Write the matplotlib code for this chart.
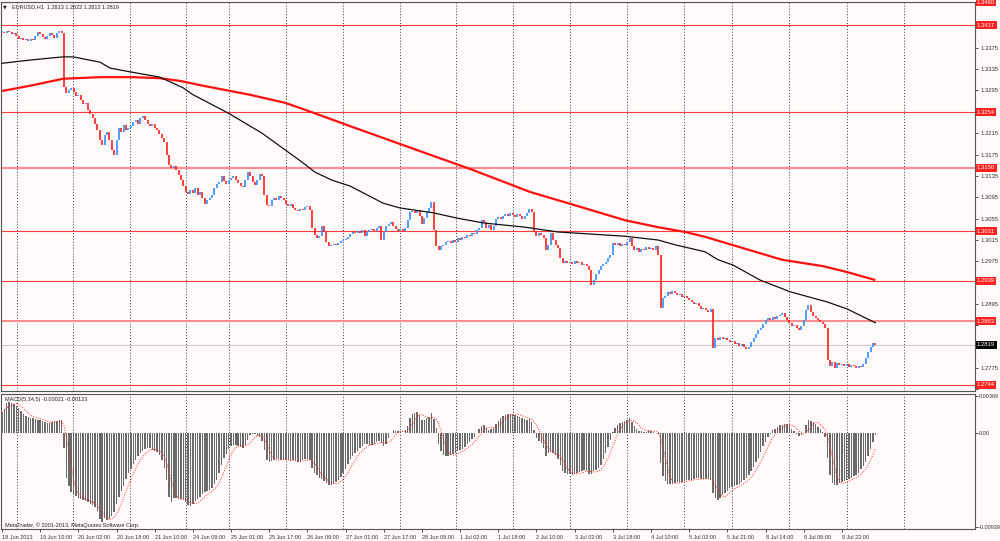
import matplotlib
matplotlib.use('Agg')
import matplotlib.pyplot as plt
import numpy as np
import pandas as pd

plt.rcParams['font.family'] = ['Liberation Sans', 'DejaVu Sans']

# ---------------- data ----------------
symbol = "EURUSD,H1"
last_ohlc = [1.2813, 1.2822, 1.2812, 1.2819]
macd_header_values = [-0.00021, -0.00123]

close = [
    1.3405, 1.3402, 1.3406, 1.3404, 1.3401, 1.3403, 1.3397, 1.3392, 1.3394, 1.3389,
    1.3391, 1.3388, 1.3392, 1.3390, 1.3397, 1.3405, 1.3401, 1.3396, 1.3392, 1.3397,
    1.3403, 1.3399, 1.3394, 1.3402, 1.3407, 1.3402,
    1.3302, 1.3290, 1.3296, 1.3300, 1.3292, 1.3284, 1.3286, 1.3277, 1.3270, 1.3272,
    1.3258, 1.3251, 1.3244, 1.3233, 1.3221, 1.3202, 1.3193, 1.3212, 1.3217, 1.3202,
    1.3184, 1.3174, 1.3202, 1.3225, 1.3217, 1.3230, 1.3221, 1.3225, 1.3229, 1.3236,
    1.3240, 1.3233, 1.3244, 1.3247, 1.3240, 1.3233, 1.3229, 1.3233, 1.3225, 1.3221,
    1.3214, 1.3206, 1.3199, 1.3174, 1.3155, 1.3150, 1.3154, 1.3146, 1.3137, 1.3127,
    1.3116, 1.3105, 1.3101, 1.3109, 1.3103, 1.3112, 1.3099, 1.3105, 1.3094, 1.3082,
    1.3090, 1.3094, 1.3099, 1.3112, 1.3120, 1.3124, 1.3135, 1.3126, 1.3120, 1.3127,
    1.3131, 1.3135, 1.3127, 1.3122, 1.3116, 1.3114, 1.3127, 1.3142, 1.3135, 1.3124,
    1.3118, 1.3127, 1.3139, 1.3135, 1.3099, 1.3080, 1.3079, 1.3090, 1.3094, 1.3090,
    1.3097, 1.3094, 1.3090, 1.3082, 1.3079, 1.3082, 1.3075, 1.3071, 1.3069, 1.3073,
    1.3071, 1.3077, 1.3079, 1.3071, 1.3037, 1.3024, 1.3019, 1.3022, 1.3041, 1.3030,
    1.3011, 1.3004, 1.3006, 1.3008, 1.3006, 1.3009, 1.3013, 1.3015, 1.3017, 1.3020,
    1.3026, 1.3030, 1.3028, 1.3032, 1.3028, 1.3034, 1.3022, 1.3030, 1.3034, 1.3036,
    1.3032, 1.3037, 1.3041, 1.3015, 1.3030, 1.3041, 1.3045, 1.3049, 1.3041, 1.3036,
    1.3032, 1.3036, 1.3032, 1.3037, 1.3052, 1.3067, 1.3069, 1.3065, 1.3071, 1.3060,
    1.3045, 1.3056, 1.3067, 1.3075, 1.3086, 1.3034, 1.3004, 1.2996, 1.3004, 1.3006,
    1.3011, 1.3013, 1.3009, 1.3015, 1.3011, 1.3019, 1.3015, 1.3020, 1.3019, 1.3024,
    1.3022, 1.3028, 1.3026, 1.3034, 1.3037, 1.3052, 1.3049, 1.3037, 1.3043, 1.3034,
    1.3041, 1.3054, 1.3058, 1.3054, 1.3060, 1.3064, 1.3060, 1.3065, 1.3062, 1.3058,
    1.3064, 1.3060, 1.3054, 1.3060, 1.3065, 1.3073, 1.3067, 1.3030, 1.3022, 1.3028,
    1.3024, 1.3019, 1.2996, 1.3006, 1.3028, 1.3015, 1.3006, 1.3000, 1.2981, 1.2972,
    1.2976, 1.2972, 1.2974, 1.2970, 1.2976, 1.2972, 1.2974, 1.2968, 1.2970, 1.2966,
    1.2959, 1.2931, 1.2940, 1.2951, 1.2959, 1.2966, 1.2970, 1.2974, 1.2981, 1.2987,
    1.3009, 1.3006, 1.3009, 1.3004, 1.3008, 1.3006, 1.3011, 1.3019, 1.3004, 1.2996,
    1.3000, 1.2993, 1.2998, 1.2996, 1.3002, 1.2998, 1.3000, 1.2996, 1.3004, 1.2987,
    1.2888, 1.2906, 1.2910, 1.2918, 1.2914, 1.2919, 1.2916, 1.2912, 1.2914, 1.2908,
    1.2910, 1.2906, 1.2903, 1.2899, 1.2895, 1.2897, 1.2892, 1.2886, 1.2888, 1.2884,
    1.2880, 1.2886, 1.2813, 1.2832, 1.2828, 1.2833, 1.2830, 1.2832, 1.2828, 1.2824,
    1.2826, 1.2820, 1.2822, 1.2817, 1.2820, 1.2815, 1.2811, 1.2815, 1.2824, 1.2832,
    1.2839, 1.2847, 1.2850, 1.2858, 1.2865, 1.2869, 1.2865, 1.2871, 1.2867, 1.2873,
    1.2874, 1.2878, 1.2871, 1.2865, 1.2860, 1.2854, 1.2856, 1.2850, 1.2847, 1.2854,
    1.2865, 1.2884, 1.2893, 1.2880, 1.2873, 1.2869, 1.2865, 1.2861, 1.2858, 1.2850,
    1.2790, 1.2779, 1.2787, 1.2775, 1.2785, 1.2781, 1.2783, 1.2779, 1.2783, 1.2777,
    1.2781, 1.2779, 1.2775, 1.2779, 1.2777, 1.2783, 1.2794, 1.2805, 1.2815, 1.2822, 1.2819,
]

# MACD main line (histogram), in units of 1e-5
macd_e5 = [
    200, 240, 300, 308, 300, 283, 263, 243, 220, 192,
    172, 160, 151, 144, 137, 131, 126, 114, 105, 100,
    100, 106, 114, 120, 126, 129, -157, -450, -530, -590,
    -625, -637, -650, -660, -672, -683, -696, -708, -720, -740,
    -780, -865, -890, -850, -872, -860, -835, -790, -712, -640,
    -580, -530, -460, -400, -358, -308, -270, -237, -204, -184,
    -167, -157, -157, -168, -183, -193, -218, -270, -350, -470,
    -640, -690, -657, -657, -657, -662, -673, -695, -720, -735,
    -710, -687, -663, -640, -615, -595, -587, -575, -553, -515,
    -470, -400, -320, -255, -210, -165, -135, -123, -123, -130,
    -142, -155, -120, -70, -23, -10, -15, -30, -45, -78,
    -170, -273, -288, -282, -270, -258, -263, -270, -273, -273,
    -277, -278, -273, -285, -290, -288, -275, -262, -262, -272,
    -350, -405, -425, -452, -465, -480, -507, -518, -520, -510,
    -495, -472, -445, -407, -358, -310, -265, -230, -200, -183,
    -157, -130, -115, -108, -120, -123, -110, -90, -78, -105,
    -130, -110, -55, -5, 25, 22, 15, 8, -5, 25,
    70, 145, 185, 200, 205, 180, 130, 125, 143, 157,
    200, 140, 50, -110, -180, -225, -232, -228, -222, -212,
    -198, -185, -172, -160, -140, -115, -92, -65, -38, -3,
    35, 70, 80, 45, 32, 33, 52, 85, 120, 150,
    167, 180, 185, 188, 192, 182, 172, 160, 148, 135,
    128, 140, 110, 30, -57, -85, -105, -150, -230, -200,
    -195, -207, -218, -260, -320, -385, -400, -409, -414, -420,
    -415, -405, -392, -380, -373, -378, -413, -410, -385, -375,
    -350, -318, -265, -205, -140, -70, 10, 45, 78, 101,
    108, 120, 130, 143, 110, 65, 40, 18, 15, 12,
    12, 25, 20, 8, -5, -10, -300, -430, -480, -510,
    -513, -508, -503, -497, -490, -490, -485, -473, -473, -470,
    -465, -457, -457, -462, -465, -458, -465, -470, -600, -650,
    -668, -652, -626, -602, -578, -556, -544, -533, -522, -508,
    -495, -475, -455, -418, -383, -343, -295, -248, -195, -135,
    -88, -45, -12, 28, 38, 55, 77, 82, 88, 90,
    78, 40, 15, -10, -30, -25, 0, 75, 130, 120,
    106, 83, 58, 35, 10, -40, -250, -420, -505, -518,
    -518, -507, -495, -483, -471, -459, -448, -435, -423, -398,
    -363, -332, -296, -230, -160, -88, -21,
]

# moving averages (bar index, price)
ma_black_idx = [0, 11.7, 25.6, 29.8, 41.1, 45.3, 53.6, 66.2, 75.9, 80.1, 94.7, 109.0,
                118.6, 125.7, 131.2, 138.3, 145.9, 159.7, 166.8, 180.6, 190.7, 201.6,
                219.2, 233.0, 247.3, 261.1, 274.9, 282.1, 294.6, 300.1, 306.4, 317.7,
                330.3, 345.8, 354.1, 366]
ma_black_val = [1.3346, 1.3352, 1.3358, 1.3358, 1.3348, 1.3337, 1.3330, 1.3320, 1.3300,
                1.3287, 1.3253, 1.3215, 1.3184, 1.3161, 1.3142, 1.3127, 1.3116, 1.3084,
                1.3075, 1.3066, 1.3056, 1.3047, 1.3039, 1.3030, 1.3026, 1.3022, 1.3015,
                1.3006, 1.2993, 1.2978, 1.2968, 1.2940, 1.2918, 1.2899, 1.2886, 1.2860]
ma_red_idx = [0, 13.0, 25.6, 41.1, 54.9, 66.2, 74.6, 83.0, 103.9, 118.6, 128.2, 147.9,
              197.4, 221.3, 237.2, 261.1, 274.9, 286.3, 294.6, 326.9, 344.1, 354.1, 366]
ma_red_val = [1.3294, 1.3305, 1.3317, 1.3320, 1.3320, 1.3318, 1.3313, 1.3305, 1.3287,
              1.3272, 1.3257, 1.3225, 1.3146, 1.3105, 1.3084, 1.3052, 1.3039, 1.3030,
              1.3021, 1.2978, 1.2966, 1.2955, 1.2940]

levels = [1.3460, 1.3417, 1.3254, 1.3150, 1.3031, 1.2939, 1.2863, 1.2744]
levels_soft = [1.3150, 1.2863]

xtick_labels = ["18 Jun 2013", "19 Jun 10:00", "20 Jun 02:00", "20 Jun 18:00", "21 Jun 10:00",
                "24 Jun 09:00", "25 Jun 01:00", "25 Jun 17:00", "26 Jun 09:00", "27 Jun 01:00",
                "27 Jun 17:00", "28 Jun 09:00", "1 Jul 02:00", "1 Jul 18:00", "2 Jul 10:00",
                "3 Jul 02:00", "3 Jul 18:00", "4 Jul 10:00", "5 Jul 02:00", "5 Jul 21:00",
                "8 Jul 14:00", "9 Jul 06:00", "9 Jul 22:00"]
day_separators = [6.3, 29.8, 53.6, 77.1, 95.1, 119.0, 142.9, 166.8, 190.3, 214.2,
                  238.1, 262.0, 285.8, 306.0, 329.8, 354.1, 378.0]

macd_ticks = [0.00369, 0.0, -0.00939]
macd_tick_labels = ["0.00369", "0.00", "-0.00939"]
copyright_text = "MetaTrader, \u00a9 2001-2013, MetaQuotes Software Corp."

# ---------------- layout ----------------
W, H = 1000, 541
BG = '#FFFAFA'
fig = plt.figure(figsize=(W / 100, H / 100), dpi=100)
fig.patch.set_facecolor(BG)


def rect(l, t, r, b):
    return [l / W, 1 - b / H, (r - l) / W, (b - t) / H]


ax = fig.add_axes(rect(1, 2, 975, 391))
axm = fig.add_axes(rect(1, 394, 975, 529), sharex=ax)

n = len(close)
idx = np.arange(n)
c = np.array(close)
o = np.concatenate([[c[0]], c[:-1]])

for a in (ax, axm):
    a.set_facecolor(BG)
    for s in a.spines.values():
        s.set_color('#555555')
        s.set_linewidth(0.8)
    for g in day_separators:
        a.axvline(g, color='#333333', lw=0.7, ls=(0, (1, 2)), zorder=0.5)

px_per_bar = 2.386
ax.set_xlim((1 - 2) / px_per_bar, (975 - 2) / px_per_bar)


def price_at(ypx):
    return 1.34645 - 0.0001873 * ypx


ax.set_ylim(price_at(391), price_at(2))

# levels
for lv in levels:
    if lv in levels_soft:
        ax.axhline(lv, color='#FF8C8C', lw=1.5, zorder=1)
    else:
        ax.axhline(lv, color='#FF3B3B', lw=0.8, zorder=1)
ax.axhline(last_ohlc[3], color='#BFBFBF', lw=0.6, zorder=1)

# candles
hi = np.maximum(o, c)
lo = np.minimum(o, c)
mid = (hi + lo) / 2
minh = 0.00012
small = (hi - lo) < minh
hi = np.where(small, mid + minh / 2, hi)
lo = np.where(small, mid - minh / 2, lo)
cols = np.where(c >= o, '#2F8DFF', '#FF1E1E')
ax.vlines(idx, lo, hi, colors=cols, lw=1.2, zorder=3)

# moving averages
ax.plot(ma_red_idx, ma_red_val, color='#FF1010', lw=1.6, zorder=4, solid_capstyle='butt')
ax.plot(ma_black_idx, ma_black_val, color='#111111', lw=0.9, zorder=4)

# right price axis: grid-step ticks; labels hidden where a level box covers them
ytr = ax.get_yaxis_transform()
ticks = np.round(np.arange(1.2735, 1.3460, 0.0040), 4)
covered = levels + [last_ohlc[3]]
ax.yaxis.tick_right()
ax.set_yticks(ticks)
ax.set_yticklabels([("" if min(abs(t - cv) for cv in covered) < 0.0012 else f"{t:.4f}")
                    for t in ticks])
ax.tick_params(axis='y', length=2.5, width=0.6, pad=1.5, labelsize=4.2, colors='#333333')
ax.tick_params(axis='x', bottom=False, labelbottom=False)

for lv in levels:
    ax.text(1.0 + 2 / 974, lv, f"{lv:.4f}", transform=ytr, ha='left', va='center',
            fontsize=4.2, color='white', zorder=10, clip_on=False,
            bbox=dict(boxstyle='square,pad=0.25', fc='#FF2020', ec='none'))
ax.text(1.0 + 2 / 974, last_ohlc[3], f"{last_ohlc[3]:.4f}", transform=ytr, ha='left',
        va='center', fontsize=4.2, color='white', zorder=10, clip_on=False,
        bbox=dict(boxstyle='square,pad=0.25', fc='#000000', ec='none'))

# header
fig.text(3 / W, 1 - 7 / H, '\u25bc', fontsize=3.5, color='#222222', va='center',
         family=['DejaVu Sans'])
fig.text(12 / W, 1 - 7 / H, f"{symbol}  " + " ".join(f"{v:.4f}" for v in last_ohlc),
         fontsize=4.0, color='#222222', va='center')

# MACD panel
m = np.array(macd_e5) * 1e-5
signal = pd.Series(m).rolling(5, min_periods=1).mean().values
axm.bar(idx, m, width=0.6, color='#6A6A6A', zorder=3)
axm.plot(idx, signal, color='#FF2020', lw=0.7, ls=(0, (1, 1.5)), zorder=4)


def macd_at(ypx):
    return (432.7 - ypx) * 0.0001


axm.set_ylim(macd_at(529), macd_at(394))
axm.yaxis.tick_right()
axm.set_yticks(macd_ticks)
axm.set_yticklabels(macd_tick_labels)
axm.tick_params(axis='y', length=2, width=0.6, pad=1.0, labelsize=4.0, colors='#333333')

axm.set_xticks(np.arange(0, 16 * len(xtick_labels), 16))
axm.set_xticklabels(xtick_labels, ha='left')
axm.tick_params(axis='x', length=2.5, width=0.6, pad=1.5, labelsize=4.0, colors='#333333')

axm.text(4 / 974, 1 - 5 / 135,
         "MACD(5,34,5) " + " ".join(f"{v:.5f}" for v in macd_header_values),
         transform=axm.transAxes, fontsize=4.0, color='#222222', va='center', ha='left')
axm.text(4 / 974, 4 / 135, copyright_text, transform=axm.transAxes, fontsize=4.0,
         color='#222222', va='center', ha='left')

fig.savefig('out.png', dpi=100, facecolor=BG)
